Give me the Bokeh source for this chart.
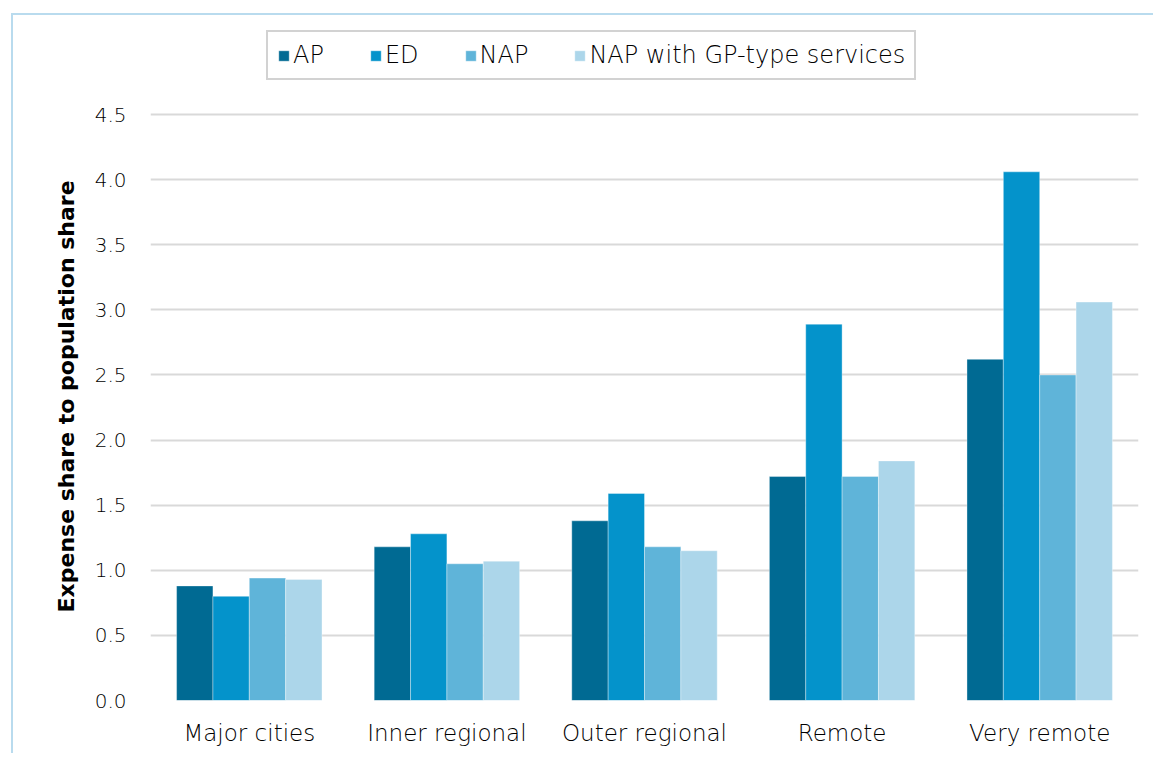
from bokeh.plotting import figure
from bokeh.models import ColumnDataSource, Range1d, Legend, LegendItem, FactorRange, CustomJSTickFormatter, Title
from bokeh.transform import dodge
from bokeh.embed import file_html
from bokeh.resources import INLINE

regions = ["Major cities", "Inner regional", "Outer regional", "Remote", "Very remote"]
ap = [0.88, 1.18, 1.38, 1.72, 2.62]
ed = [0.80, 1.28, 1.59, 2.89, 4.06]
nap = [0.94, 1.05, 1.18, 1.72, 2.50]
nap_gp = [0.93, 1.07, 1.15, 1.84, 3.06]
series_names = ["AP", "ED", "NAP", "NAP with GP-type services"]
colors = ["#006a93", "#0493cb", "#5fb4d9", "#acd6ea"]
y_ticks = [0.0, 0.5, 1.0, 1.5, 2.0, 2.5, 3.0, 3.5, 4.0, 4.5]
y_label = "Expense share to population share"

FONT = "'DejaVu Sans Light', 'Open Sans'"

src = ColumnDataSource(dict(region=regions, ap=ap, ed=ed, nap=nap, gp=nap_gp))

p = figure(x_range=FactorRange(*regions, range_padding=0), y_range=Range1d(0, 5.184),
           width=1142, height=740, output_backend="svg", toolbar_location=None,
           min_border_left=137, min_border_right=17, min_border_top=10, min_border_bottom=55,
           margin=(13, 0, 0, 11),
           styles={"border-left": "2px solid #b9dbee", "border-top": "2px solid #b9dbee"})
p.outline_line_color = None
p.background_fill_color = "white"

bw = 0.184
offs = [-1.5 * bw, -0.5 * bw, 0.5 * bw, 1.5 * bw]
cols = ["ap", "ed", "nap", "gp"]
renderers = []
for c, o, col in zip(cols, offs, colors):
    r = p.vbar(x=dodge("region", o, range=p.x_range), top=c, width=bw, bottom=0, source=src,
               fill_color=col, line_color="white", line_alpha=0.35, line_width=1)
    renderers.append(r)

p.xgrid.grid_line_color = None
p.ygrid.grid_line_color = "#d9d9d9"
p.ygrid.grid_line_width = 2
p.yaxis.ticker = y_ticks
p.yaxis.formatter = CustomJSTickFormatter(code="return tick.toFixed(1);")

for ax in (p.xaxis, p.yaxis):
    ax.axis_line_color = None
    ax.major_tick_line_color = None
    ax.minor_tick_line_color = None
    ax.major_label_text_font = FONT
    ax.major_label_text_color = "black"
p.yaxis.major_label_text_font_size = "20px"
p.xaxis.major_label_text_font_size = "23px"
p.yaxis.major_label_standoff = 18
p.xaxis.major_label_standoff = 13

ytitle = Title(text=y_label, align="left", offset=88, text_font="DejaVu Sans",
               text_font_style="bold", text_font_size="22px", text_color="black", standoff=25)
p.add_layout(ytitle, "left")

legend = Legend(items=[LegendItem(label=n, renderers=[r]) for n, r in zip(series_names, renderers)],
                orientation="horizontal", location=(116, 620))
legend.label_text_font = FONT
legend.label_text_font_size = "24px"
legend.label_text_color = "black"
legend.glyph_width = 13
legend.glyph_height = 13
legend.label_standoff = 3
legend.spacing = 45
legend.padding = 9
legend.margin = 0
legend.border_line_color = "#a6a6a6"
legend.border_line_width = 2
legend.background_fill_color = "white"
p.add_layout(legend, "center")

open("out.html", "w").write(file_html(p, INLINE))
